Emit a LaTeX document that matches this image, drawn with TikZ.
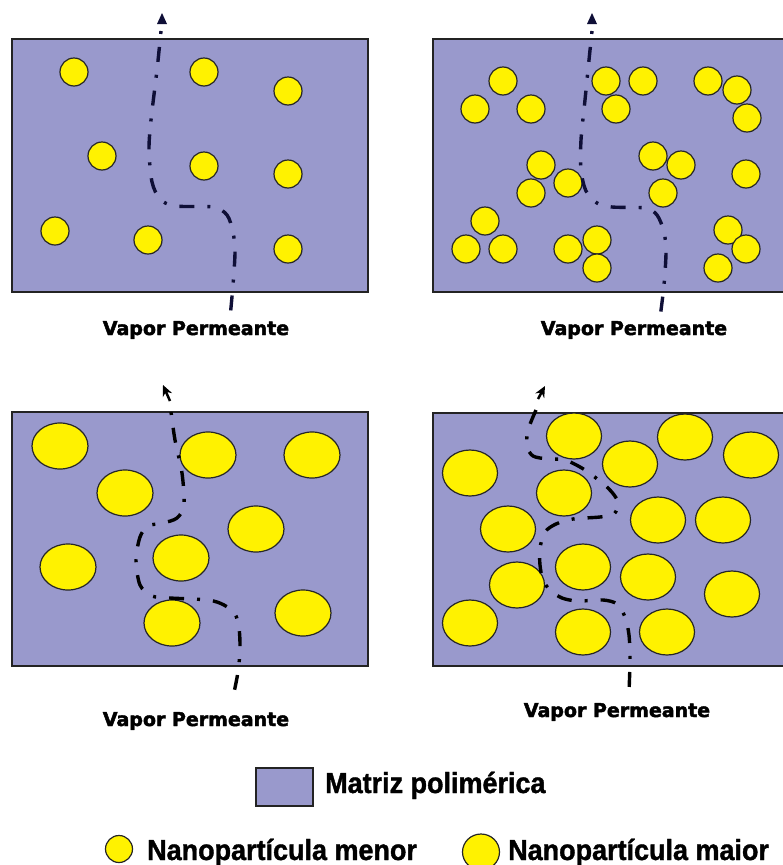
\documentclass[tikz,border=0pt]{standalone}
\usepackage{fontspec}
\usepackage{graphicx}
\newfontfamily\legfont{Liberation Sans}[BoldFeatures={FakeBold=1.3,FakeStretch=0.93}]
\newfontfamily\vapfont{DejaVu Sans}[BoldFeatures={FakeBold=2.2}]
\usetikzlibrary{arrows.meta}
\definecolor{matrixc}{RGB}{153,153,204}
\definecolor{navyc}{RGB}{15,15,55}
\definecolor{edgec}{RGB}{35,35,35}
\begin{document}
\begin{tikzpicture}[x=1pt,y=-1pt,
  matriz/.style={draw=edgec, line width=1.4pt, fill=matrixc},
  part/.style={draw=black!85, line width=1.2pt, fill=yellow},
  route/.style={line width=3.4pt, dash pattern=on 3pt off 13pt on 15pt off 13pt},
  routeb/.style={line width=3.4pt, dash pattern=on 15pt off 13pt on 3pt off 13pt},
  vapor/.style={font=\vapfont\bfseries\fontsize{19}{22}\selectfont, inner sep=0pt, anchor=base},
  legtext/.style={font=\legfont\bfseries\fontsize{29}{31}\selectfont, inner sep=0pt, anchor=base west}
]
\clip (0,0) rectangle (783,865);
\fill[white] (0,0) rectangle (783,865);

% ---------- panel 1 ----------
\draw[matriz] (12,39) rectangle (368,292);
\foreach \p in {(74,72),(204,72),(288,91),(102,156),(204,166),(288,174),(55,231),(148,240),(288,249)}
  \draw[part] \p circle[radius=14pt];
\draw[route, navyc] plot[smooth, tension=0.5] coordinates {(161,31) (157,70) (151,120) (149,150) (152,182) (160,199) (175,206) (213,207) (227,215) (233,232) (235,252) (233,285) (230,318)};
\fill[navyc] (162,13) -- (157,24) -- (167,24) -- cycle;
\node[vapor] (v1) at (196,335) {Vapor Permeante};

% ---------- panel 2 ----------
\draw[matriz] (433,39) rectangle (795,292);
\foreach \p in {(503,81),(475,109),(531,109),(606,81),(643,81),(616,109),(708,81),(737,90),(747,118),
  (541,165),(568,183),(531,193),(653,156),(681,165),(663,193),(746,174),
  (485,221),(466,249),(503,249),(568,249),(597,240),(597,268),(728,230),(746,249),(718,268)}
  \draw[part] \p circle[radius=14pt];
\draw[route, navyc] plot[smooth, tension=0.5] coordinates {(592,31) (589,60) (585,100) (581,140) (581,170) (586,191) (597,203) (612,207) (645,208) (657,215) (664,232) (666,252) (664,285) (660,318)};
\fill[navyc] (592,13) -- (587,24) -- (597,24) -- cycle;
\node[vapor] (v2) at (634,335) {Vapor Permeante};

% ---------- panel 3 ----------
\draw[matriz] (12,412) rectangle (368,666);
\foreach \p in {(60,446),(208,455),(312,455),(125,493),(256,529),(181,558),(68,567),(172,623),(303,613)}
  \draw[part] \p ellipse[x radius=28pt, y radius=23pt];
\draw[route, black] plot[smooth, tension=0.5] coordinates {(171,412) (175,440) (182,473) (184,505) (177,518) (163,523) (148,526) (140,537) (136,560) (140,585) (152,596) (170,598) (208,600) (224,605) (235,614) (239,628) (240,648) (238,672) (232,702)};
\draw[black, line width=2.5pt, -{Stealth[length=11pt,width=10pt]}] (170,401) -- (163,385);
\node[vapor] (v3) at (196,726) {Vapor Permeante};

% ---------- panel 4 ----------
\draw[matriz] (433,413) rectangle (795,666);
\foreach \p in {(574,436),(685,437),(751,455),(470,473),(630,464),(564,493),(508,529),(658,520),(723,520),
  (583,567),(648,577),(517,585),(732,594),(470,623),(583,632),(667,632)}
  \draw[part] \p ellipse[x radius=27.5pt, y radius=23pt];
\draw[routeb, black] plot[smooth, tension=0.5] coordinates {(536,410) (528,430) (527,446) (533,456) (548,459) (565,460) (585,470) (608,488) (618,502) (614,514) (600,517) (573,519) (556,524) (545,532) (540,548) (540,565) (543,580) (550,590) (562,598) (578,601) (603,600) (617,604) (625,617) (629,635) (630,660) (629,692)};
\draw[black, line width=2.5pt, -{Stealth[length=11pt,width=10pt]}] (538,399) -- (545,386);
\node[vapor] (v4) at (617,717) {Vapor Permeante};

% ---------- legend ----------
\draw[matriz] (256,768) rectangle (313,806);
\node[legtext] (lm) at (325,793) {Matriz polimérica};
\draw[part] (119,849) circle[radius=13.5pt];
\node[legtext] (ln) at (147,860) {Nanopartícula menor};
\draw[part] (481,852) ellipse[x radius=18.5pt, y radius=18pt];
\node[legtext] (lx) at (508,860) {Nanopartícula maior};
\end{tikzpicture}
\end{document}
